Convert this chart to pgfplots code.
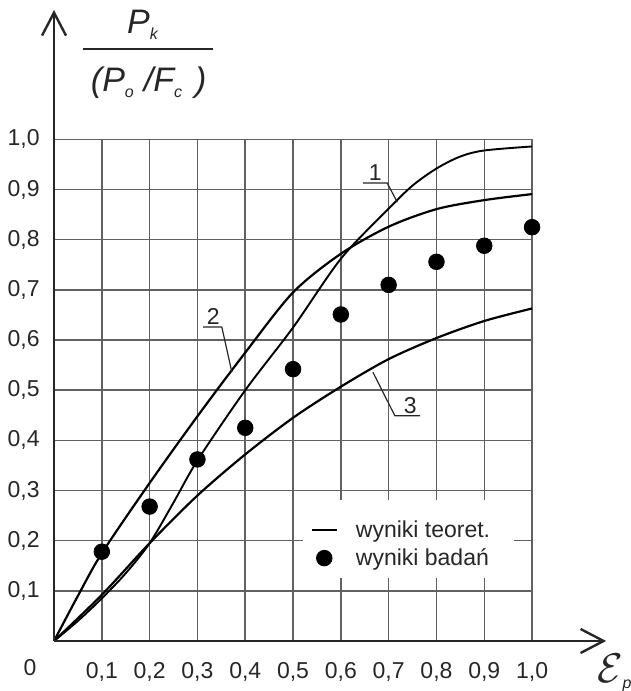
\documentclass[border=0pt]{standalone}
\usepackage{fontspec}
\setmainfont{Liberation Sans}
\usepackage{pgfplots}
\pgfplotsset{compat=1.18}
\usetikzlibrary{arrows.meta}

\begin{document}
\begin{tikzpicture}
\begin{axis}[
  x=239pt, y=250.75pt,
  xmin=0, xmax=1, ymin=0, ymax=1,
  axis line style={draw=none},
  clip=false,
  xtick={0.1,0.2,0.3,0.4,0.5,0.6,0.7,0.8,0.9,1.0},
  ytick={0.1,0.2,0.3,0.4,0.5,0.6,0.7,0.8,0.9,1.0},
  grid=major,
  major grid style={line width=0.75pt, draw=black!62},
  major tick length=0pt,
  tick label style={font=\fontsize{11.5}{13}\selectfont, text=black!85},
  xticklabel style={anchor=center, yshift=-15.5pt},
  yticklabel style={xshift=-3.7pt},
  /pgf/number format/use comma,
  /pgf/number format/fixed,
  /pgf/number format/fixed zerofill,
  /pgf/number format/precision=1,
  /pgf/number format/assume math mode=true,
  legend style={at={(axis cs:0.536,0.273)}, anchor=north west, draw=none, fill=none,
    inner xsep=0pt, inner ysep=6pt, font=\fontsize{11.5}{13}\selectfont,
    text=black!85, column sep=7pt},
  legend cell align=left,
]
% white patch behind the legend
\fill[white] (axis cs:0.521,0.281) rectangle (axis cs:0.962,0.126);

% curve 1
\addplot[black, line width=0.95pt, smooth, tension=0.5,
  legend image code/.code={\draw[black, line width=1.1pt] (0.08cm,0cm) -- (0.52cm,0cm);}]
  coordinates {(0,0) (0.05,0.04) (0.1,0.085) (0.15,0.135) (0.2,0.195) (0.25,0.276) (0.3,0.36)
   (0.4,0.5) (0.5,0.625) (0.6,0.762) (0.7,0.862) (0.75,0.908) (0.8,0.942) (0.85,0.966) (0.9,0.978) (1.0,0.986)};
\addlegendentry{wyniki teoret.}
% curve 2
\addplot[black, line width=1.1pt, smooth, tension=0.5, forget plot]
  coordinates {(0,0) (0.05,0.09) (0.1,0.175) (0.2,0.315) (0.3,0.448) (0.4,0.575) (0.5,0.695)
   (0.6,0.772) (0.7,0.826) (0.8,0.861) (0.9,0.879) (1.0,0.891)};
% curve 3
\addplot[black, line width=1.1pt, smooth, tension=0.5, forget plot]
  coordinates {(0,0) (0.1,0.092) (0.2,0.195) (0.3,0.29) (0.4,0.372) (0.5,0.445) (0.6,0.507)
   (0.7,0.562) (0.8,0.604) (0.9,0.638) (1.0,0.663)};
% measurements
\addplot[only marks, mark=*, mark size=3.9pt, black]
  coordinates {(0.1,0.178) (0.2,0.268) (0.3,0.362) (0.4,0.425) (0.5,0.542) (0.6,0.651)
   (0.7,0.71) (0.8,0.756) (0.9,0.788) (1.0,0.825)};
\addlegendentry{wyniki badań}

% axes with arrows
\draw[line width=1.2pt, black!85, -{Straight Barb[length=11.5pt,width=12pt]}]
  (axis cs:0,0) -- (axis cs:1.155,0);
\draw[line width=1.2pt, black!85, -{Straight Barb[length=11.5pt,width=12pt]}]
  (axis cs:0,0) -- (axis cs:0,1.258);

% curve labels
\begin{scope}[line width=0.6pt, black!85]
\draw (axis cs:0.646,0.913) -- (axis cs:0.697,0.913) -- (axis cs:0.718,0.875);
\node[anchor=base, inner sep=0pt, font=\fontsize{11.5}{13}\selectfont] at (axis cs:0.672,0.918) {1};
\draw (axis cs:0.312,0.626) -- (axis cs:0.351,0.626) -- (axis cs:0.372,0.536);
\node[anchor=base, inner sep=0pt, font=\fontsize{11.5}{13}\selectfont] at (axis cs:0.333,0.631) {2};
\draw (axis cs:0.766,0.449) -- (axis cs:0.713,0.449) -- (axis cs:0.667,0.536);
\node[anchor=base, inner sep=0pt, font=\fontsize{11.5}{13}\selectfont] at (axis cs:0.745,0.454) {3};
\end{scope}

% origin label
\node[font=\fontsize{11.5}{13}\selectfont, text=black!85] at (axis cs:-0.050,-0.054) {0};

% y-axis label (fraction)
\node[font=\fontsize{17}{20}\selectfont\itshape, text=black!85, inner sep=0pt] at (axis cs:0.185,1.228)
  {P\raisebox{-3pt}{\fontsize{8}{8}\selectfont k}};
\draw[line width=1pt, black!85] (axis cs:0.060,1.180) -- (axis cs:0.332,1.180);
\node[font=\fontsize{17}{20}\selectfont\itshape, text=black!85, inner sep=0pt] at (axis cs:0.198,1.113)
  {(P\raisebox{-3pt}{\fontsize{8}{8}\selectfont o}\hspace{5pt}/F\raisebox{-3pt}{\fontsize{8}{8}\selectfont c}\hspace{6.5pt})};

% x-axis label
\node[inner sep=0pt, text=black!85] at (axis cs:1.172,-0.064)
  {{\fontsize{20}{24}\selectfont$\mathcal{E}$}\raisebox{-3pt}{\fontsize{8}{8}\selectfont\itshape p}};

\coordinate (bbA) at (axis cs:-0.113,1.278);
\coordinate (bbB) at (axis cs:1.205,-0.0997);
\end{axis}
\pgfresetboundingbox
\path[use as bounding box] (bbA) rectangle (bbB);
\end{tikzpicture}
\end{document}
